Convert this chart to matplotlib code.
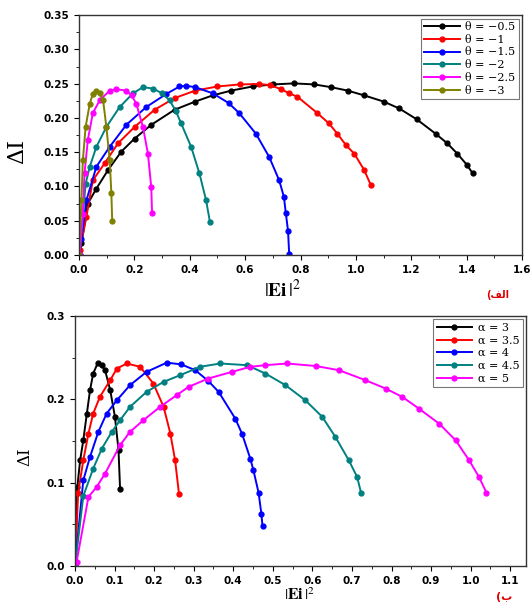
import matplotlib
matplotlib.use('Agg')
import matplotlib.pyplot as plt
from matplotlib.ticker import MultipleLocator, FormatStrFormatter

# top panel: theta series (x = |Ei|^2, y = dI)
THETA_LABELS = ['θ = −0.5', 'θ = −1', 'θ = −1.5', 'θ = −2', 'θ = −2.5', 'θ = −3']
THETA_X = [
    [0.0, 0.009, 0.032, 0.063, 0.105, 0.153, 0.201, 0.261, 0.345, 0.42, 0.483, 0.55, 0.627, 0.70,
     0.777, 0.85, 0.91, 0.97, 1.03, 1.10, 1.156, 1.22, 1.288, 1.33, 1.366, 1.40, 1.422],
    [0.003, 0.027, 0.05, 0.093, 0.141, 0.201, 0.273, 0.345, 0.42, 0.50, 0.58, 0.651, 0.69, 0.73,
     0.759, 0.789, 0.861, 0.903, 0.933, 0.965, 0.994, 1.03, 1.054],
    [0.002, 0.009, 0.027, 0.063, 0.111, 0.171, 0.243, 0.315, 0.363, 0.387, 0.42, 0.483, 0.54, 0.579,
     0.639, 0.687, 0.723, 0.74, 0.747, 0.755, 0.759],
    [0.002, 0.024, 0.039, 0.063, 0.099, 0.147, 0.195, 0.231, 0.267, 0.30, 0.327, 0.35, 0.369, 0.405,
     0.435, 0.459, 0.473],
    [0.002, 0.014, 0.02, 0.032, 0.05, 0.075, 0.111, 0.135, 0.171, 0.19, 0.207, 0.231, 0.249, 0.261,
     0.264],
    [0.0, 0.009, 0.014, 0.024, 0.039, 0.05, 0.063, 0.075, 0.087, 0.099, 0.111, 0.117, 0.12],
]
THETA_Y = [
    [0.0, 0.017, 0.075, 0.097, 0.124, 0.151, 0.170, 0.190, 0.212, 0.224, 0.233, 0.240, 0.246, 0.249,
     0.2505, 0.249, 0.245, 0.240, 0.233, 0.224, 0.214, 0.198, 0.177, 0.163, 0.148, 0.132, 0.119],
    [0.007, 0.056, 0.109, 0.134, 0.163, 0.187, 0.212, 0.229, 0.240, 0.246, 0.249, 0.2496, 0.248, 0.242,
     0.236, 0.231, 0.207, 0.192, 0.177, 0.160, 0.148, 0.124, 0.102],
    [0.0, 0.024, 0.080, 0.129, 0.158, 0.190, 0.216, 0.235, 0.246, 0.247, 0.245, 0.236, 0.222, 0.207,
     0.177, 0.143, 0.109, 0.085, 0.061, 0.035, 0.002],
    [0.0, 0.104, 0.129, 0.158, 0.187, 0.216, 0.236, 0.245, 0.243, 0.236, 0.226, 0.210, 0.192, 0.158,
     0.119, 0.080, 0.048],
    [0.0, 0.06, 0.119, 0.168, 0.207, 0.226, 0.240, 0.242, 0.240, 0.233, 0.221, 0.187, 0.148, 0.099,
     0.061],
    [0.0, 0.08, 0.138, 0.187, 0.221, 0.235, 0.240, 0.236, 0.226, 0.187, 0.138, 0.09, 0.05],
]
THETA_COLORS = ['black', '#ff0000', '#0000ff', '#008080', '#ff00ff', '#808000']

# bottom panel: alpha series
ALPHA_LABELS = ['α = 3', 'α = 3.5', 'α = 4', 'α = 4.5', 'α = 5']
ALPHA_X = [
    [0.0, 0.006, 0.013, 0.021, 0.03, 0.038, 0.046, 0.057, 0.067, 0.076, 0.089, 0.101, 0.11, 0.114],
    [0.0, 0.008, 0.021, 0.034, 0.046, 0.063, 0.089, 0.106, 0.131, 0.165, 0.198, 0.224, 0.241, 0.253,
     0.263],
    [0.0, 0.021, 0.038, 0.059, 0.08, 0.106, 0.139, 0.181, 0.232, 0.268, 0.304, 0.337, 0.363, 0.405,
     0.422, 0.443, 0.451, 0.464, 0.471, 0.474],
    [0.0, 0.021, 0.046, 0.068, 0.093, 0.114, 0.139, 0.181, 0.224, 0.266, 0.316, 0.367, 0.435, 0.481,
     0.532, 0.582, 0.625, 0.658, 0.692, 0.713, 0.723],
    [0.004, 0.034, 0.055, 0.076, 0.114, 0.139, 0.173, 0.215, 0.257, 0.287, 0.337, 0.397, 0.443, 0.481,
     0.536, 0.608, 0.667, 0.734, 0.785, 0.827, 0.869, 0.92, 0.962, 0.996, 1.021, 1.04],
]
ALPHA_Y = [
    [0.0, 0.095, 0.127, 0.151, 0.183, 0.211, 0.231, 0.243, 0.241, 0.235, 0.211, 0.179, 0.139, 0.092],
    [0.0, 0.088, 0.127, 0.159, 0.183, 0.203, 0.223, 0.237, 0.243, 0.239, 0.219, 0.191, 0.159, 0.127,
     0.086],
    [0.0, 0.103, 0.131, 0.161, 0.183, 0.199, 0.217, 0.233, 0.244, 0.242, 0.235, 0.222, 0.209, 0.177,
     0.159, 0.129, 0.115, 0.088, 0.063, 0.048],
    [0.0, 0.084, 0.117, 0.141, 0.161, 0.175, 0.191, 0.209, 0.221, 0.229, 0.239, 0.243, 0.241, 0.231,
     0.217, 0.199, 0.179, 0.155, 0.127, 0.107, 0.088],
    [0.005, 0.083, 0.095, 0.111, 0.145, 0.161, 0.175, 0.191, 0.205, 0.215, 0.225, 0.233, 0.239, 0.241,
     0.243, 0.240, 0.235, 0.223, 0.213, 0.203, 0.189, 0.171, 0.151, 0.127, 0.107, 0.088],
]
ALPHA_COLORS = ['black', '#ff0000', '#0000ff', '#008080', '#ff00ff']

plt.rcParams['mathtext.fontset'] = 'stix'

fig = plt.figure(figsize=(5.3, 6.1), dpi=100)
ax1 = fig.add_axes([0.149, 0.582, 0.836, 0.393])
ax2 = fig.add_axes([0.1415, 0.072, 0.851, 0.41])


def style_axes(ax):
    for sp in ax.spines.values():
        sp.set_linewidth(1.0)
        sp.set_color('#333333')
    ax.tick_params(which='both', direction='out', top=False, right=False, labelsize=7.5)
    ax.tick_params(which='major', length=3.5)
    ax.tick_params(which='minor', length=2)
    for lab in ax.get_xticklabels() + ax.get_yticklabels():
        lab.set_fontweight('bold')


def draw(ax, xs, ys, colors, labels):
    for x, y, c, lab in zip(xs, ys, colors, labels):
        ax.plot(x, y, color=c, lw=1.4, marker='o', ms=3.5, label=lab)
    leg = ax.legend(loc='upper right', fancybox=False, framealpha=1, edgecolor='#777777',
                    prop={'family': 'DejaVu Serif', 'size': 8}, handlelength=3.2,
                    labelspacing=0.25, borderaxespad=0.3, borderpad=0.3, handletextpad=0.5)
    leg.get_frame().set_linewidth(0.8)


draw(ax1, THETA_X, THETA_Y, THETA_COLORS, THETA_LABELS)
ax1.set_xlim(0, 1.6)
ax1.set_ylim(0, 0.35)
ax1.xaxis.set_major_locator(MultipleLocator(0.2))
ax1.xaxis.set_minor_locator(MultipleLocator(0.1))
ax1.yaxis.set_major_locator(MultipleLocator(0.05))
ax1.yaxis.set_minor_locator(MultipleLocator(0.025))
ax1.yaxis.set_major_formatter(FormatStrFormatter('%.2f'))
ax1.xaxis.set_major_formatter(FormatStrFormatter('%.1f'))
style_axes(ax1)

draw(ax2, ALPHA_X, ALPHA_Y, ALPHA_COLORS, ALPHA_LABELS)
ax2.set_xlim(0, 1.14)
ax2.set_ylim(0, 0.3)
ax2.xaxis.set_major_locator(MultipleLocator(0.1))
ax2.xaxis.set_minor_locator(MultipleLocator(0.05))
ax2.yaxis.set_major_locator(MultipleLocator(0.1))
ax2.yaxis.set_minor_locator(MultipleLocator(0.05))
ax2.yaxis.set_major_formatter(FormatStrFormatter('%.1f'))
ax2.xaxis.set_major_formatter(FormatStrFormatter('%.1f'))
style_axes(ax2)

# axis labels
fig.text(17 / 530, 1 - 152 / 610, 'ΔI', rotation=90, ha='center', va='center',
         family='DejaVu Serif', fontsize=16)
fig.text(25 / 530, 1 - 457 / 610, 'ΔI', rotation=90, ha='center', va='center',
         family='DejaVu Serif', fontsize=12)
fig.text(283 / 530, 1 - 290 / 610, r'$|\mathbf{Ei}\,|^{2}$', ha='center', va='center', fontsize=14)
fig.text(300 / 530, 1 - 595 / 610, r'$|\mathbf{Ei}\,|^{2}$', ha='center', va='center', fontsize=11.5)

# panel tags (Arabic, shaped glyphs in visual order)
fig.text(498 / 530, 1 - 295 / 610, '(\uFED2\uFEDF\uFE8D', ha='center', va='center',
         color='#dd0000', fontsize=7, fontweight='bold', family='DejaVu Sans')
fig.text(504 / 530, 1 - 597 / 610, '(\uFE8F', ha='center', va='center',
         color='#dd0000', fontsize=8, fontweight='bold', family='DejaVu Sans')

fig.savefig('out.png', dpi=100)
